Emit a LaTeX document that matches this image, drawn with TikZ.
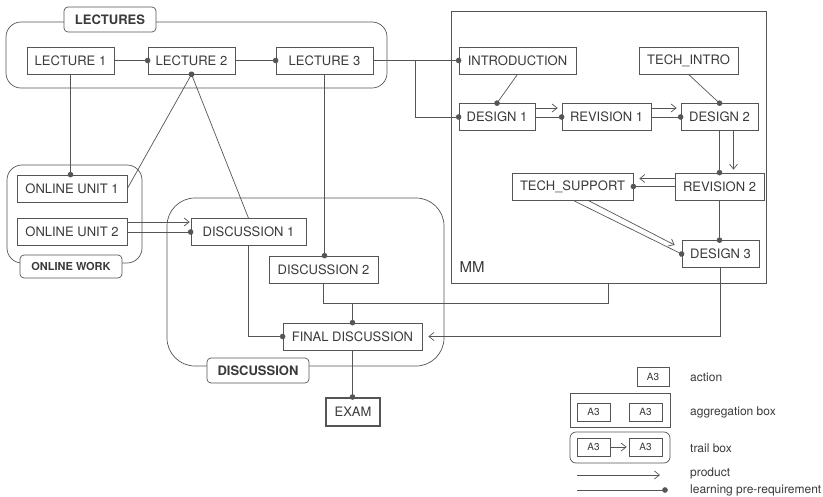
\documentclass[tikz,border=0pt]{standalone}
\usepackage{fontspec}
\setmainfont{TeX Gyre Heros}
\usetikzlibrary{arrows.meta}
\definecolor{linec}{HTML}{555555}
\definecolor{textc}{HTML}{3A3A3A}
\tikzset{
  box/.style={draw=linec, line width=0.7pt, fill=white, inner sep=0pt, minimum height=27pt,
    text=textc, font=\fontsize{13}{15}\selectfont},
  grp/.style={draw=linec, line width=0.7pt, rounded corners=15pt, inner sep=0pt},
  glabel/.style={draw=linec, line width=0.7pt, fill=white, rounded corners=4pt, inner sep=0pt,
    text=textc, font=\bfseries\fontsize{13}{15}\selectfont},
  lgbox/.style={draw=linec, line width=0.7pt, fill=white, inner sep=0pt, minimum width=33pt,
    minimum height=18pt, text=textc, font=\fontsize{10}{12}\selectfont},
  lgtext/.style={anchor=west, inner sep=0pt, text=textc, font=\fontsize{12}{14}\selectfont},
  con/.style={draw=linec, line width=0.7pt},
  pre/.style={con, -{Circle[length=5.5pt]}, shorten >=-2.75pt},
  prod/.style={con, -{Straight Barb[length=5pt,width=8pt]}},
}
\begin{document}
\begin{tikzpicture}[x=1pt,y=-1pt]
\useasboundingbox[fill=white] (0,0) rectangle (823,496);

% groups
\node[grp, minimum width=381pt, minimum height=66pt] (lecg) at (196.5,55) {};
\node[grp, minimum width=135pt, minimum height=98pt] (onlg) at (74.5,214) {};
\node[grp, rounded corners=28pt, minimum width=277pt, minimum height=168pt] (discg) at (305.5,282) {};
\node[draw=linec, line width=0.7pt, inner sep=0pt, minimum width=315pt, minimum height=272pt] (mm) at (608.5,147) {};
\node[text=textc, font=\fontsize{15}{17}\selectfont, inner sep=0pt] (mmlabel) at (472,267) {MM};

% group labels
\node[glabel, minimum width=92pt, minimum height=25pt] (leclab) at (110,19.5) {LECTURES};
\node[glabel, minimum width=102pt, minimum height=23pt, font=\bfseries\fontsize{11}{13}\selectfont] (onllab) at (71,266.5) {ONLINE WORK};
\node[glabel, minimum width=102pt, minimum height=25pt] (disclab) at (258,370.5) {DISCUSSION};

% action boxes
\node[box, minimum width=87pt] (l1) at (70.5,60.5) {LECTURE 1};
\node[box, minimum width=87pt] (l2) at (191.5,60.5) {LECTURE 2};
\node[box, minimum width=97pt] (l3) at (324.5,60.5) {LECTURE 3};
\node[box, minimum width=117pt] (intro) at (517.5,60.5) {INTRODUCTION};
\node[box, minimum width=99pt] (ti) at (688.5,60.5) {TECH\_INTRO};
\node[box, minimum width=76pt] (d1) at (497,117) {DESIGN 1};
\node[box, minimum width=89pt] (r1) at (606.5,117) {REVISION 1};
\node[box, minimum width=77pt] (d2) at (719.5,117) {DESIGN 2};
\node[box, minimum width=121pt] (ts) at (572.5,186.5) {TECH\_SUPPORT};
\node[box, minimum width=89pt] (r2) at (719.5,186.5) {REVISION 2};
\node[box, minimum width=77pt] (d3) at (720.5,254) {DESIGN 3};
\node[box, minimum width=110pt] (ou1) at (72,188.5) {ONLINE UNIT 1};
\node[box, minimum width=110pt] (ou2) at (72,232) {ONLINE UNIT 2};
\node[box, minimum width=115pt] (ds1) at (248.5,232) {DISCUSSION 1};
\node[box, minimum width=109pt] (ds2) at (323.5,269.5) {DISCUSSION 2};
\node[box, minimum width=139pt] (fd) at (352.5,336.5) {FINAL DISCUSSION};
\node[box, line width=2pt, minimum width=54pt, minimum height=28pt] (exam) at (353,412) {EXAM};

% connectors
\draw[pre] (l1.east) -- (l2.west);
\draw[pre] (l2.east) -- (l3.west);
\draw[pre] (l1.south) -- (l1.south |- ou1.north);
\draw[pre] (ou1.east) -- (l2.south);
\draw[pre] (ds1.north) -- (l2.south);
\draw[pre] (l3.south) -- (l3.south |- ds2.north);
\coordinate (j0) at (415,60.5);
\draw[pre] (l3.east) -- (intro.west);
\draw[pre] (j0) |- (d1.west);
\draw[pre] (intro.south) -- (d1.north);
\draw[pre] (ti.south) -- (d2.north);
\draw[prod] ([yshift=9pt]d1.east) -- ([yshift=9pt,xshift=-4pt]r1.west);
\draw[pre] (d1.east) -- (r1.west);
\draw[prod] ([yshift=9pt]r1.east) -- ([yshift=9pt,xshift=-4pt]d2.west);
\draw[pre] (r1.east) -- (d2.west);
\draw[pre] (d2.south) -- (r2.north);
\draw[prod] ([xshift=14pt]d2.south) -- ([xshift=14pt,yshift=3pt]r2.north);
\draw[prod] ([yshift=8pt]r2.west) -- ([yshift=8pt,xshift=6pt]ts.east);
\draw[pre] (r2.west) -- (ts.east);
\draw[prod] ([xshift=15.5pt]ts.south) -- ([xshift=-7pt,yshift=9pt]d3.west);
\draw[pre] ([xshift=0.5pt]ts.south) -- (d3.west);
\draw[pre] (r2.south) -- (r2.south |- d3.north);
\draw[prod] (d3.south) |- ([xshift=6pt]fd.east);
\coordinate (j1) at (608.5,303);
\draw[con] (ds2.south) |- (j1) -- (mm.south);
\draw[pre] (fd.north |- j1) -- (fd.north);
\draw[pre] (ds1.south) |- (fd.west);
\draw[pre] (fd.south) -- (fd.south |- exam.north);
\draw[prod] ([yshift=10pt]ou2.east) -- ([yshift=10pt,xshift=-1pt]ds1.west);
\draw[pre] (ou2.east) -- (ds1.west);

% legend
\node[lgbox, minimum width=32pt, minimum height=19pt] (la) at (653,376.5) {A3};
\node[lgtext] (lta) at (690,377) {action};
\node[draw=linec, line width=0.7pt, inner sep=0pt, minimum width=100pt, minimum height=34pt] (lagg) at (620,410) {};
\node[lgbox] (lg1) at (593.5,412) {A3};
\node[lgbox] (lg2) at (645.5,412) {A3};
\node[lgtext] (ltg) at (690,412) {aggregation box};
\node[draw=linec, line width=0.7pt, inner sep=0pt, rounded corners=6pt, minimum width=100pt, minimum height=31pt] (ltr) at (620,447.5) {};
\node[lgbox] (lt1) at (593.5,447) {A3};
\node[lgbox] (lt2) at (645.5,447) {A3};
\node[lgtext] (ltt) at (690,448) {trail box};
\draw[prod] (lt1.east) -- ([xshift=-2pt]lt2.west);
\coordinate (p0) at (577,475);
\coordinate (p1) at (660,475);
\draw[prod] (p0) -- (p1);
\node[lgtext] (ltp) at (690,473) {product};
\coordinate (q0) at (577,490);
\coordinate (q1) at (665,490);
\draw[pre] (q0) -- (q1);
\node[lgtext] (ltq) at (690,490) {learning pre-requirement};
\end{tikzpicture}
\end{document}
